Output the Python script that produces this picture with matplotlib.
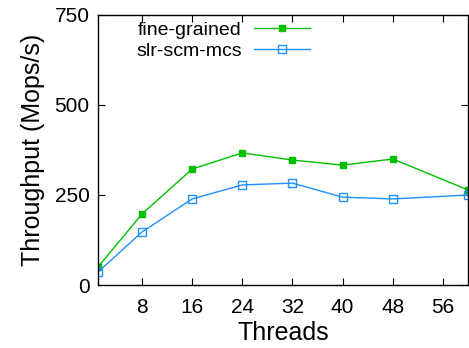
import numpy as np
import matplotlib
matplotlib.use("Agg")
import matplotlib.pyplot as plt

plt.rcParams['font.family'] = ['Liberation Sans', 'DejaVu Sans']

threads = [1, 8, 16, 24, 32, 40, 48, 60]
fine_grained = [50, 197, 322, 367, 347, 333, 350, 264]
slr_scm_mcs = [36, 147, 239, 278, 283, 244, 239, 250]

fig = plt.figure(figsize=(4.69, 3.48), dpi=100)
ax = fig.add_axes([0.209, 0.181, 0.789, 0.776])

ax.plot(threads, fine_grained, color='#00c000', lw=1, marker='s', ms=5,
        mfc='#00c000', mec='#00c000', label='fine-grained')
ax.plot(threads, slr_scm_mcs, color='#1e90ff', lw=1, marker='s', ms=5.5,
        mfc='none', mec='#1e90ff', mew=1, label='slr-scm-mcs')

ax.set_xlim(1, 60)
ax.set_ylim(0, 750)
ax.set_xticks([8, 16, 24, 32, 40, 48, 56])
ax.set_yticks([0, 250, 500, 750])
ax.tick_params(direction='in', top=True, right=True, labelsize=15, length=5, width=0.8)
ax.tick_params(axis='x', pad=9)
ax.tick_params(axis='y', pad=6)
for s in ax.spines.values():
    s.set_linewidth(1)
ax.set_xlabel('Threads', fontsize=18, labelpad=3)
ax.set_ylabel('Throughput (Mops/s)', fontsize=18, labelpad=7)

ax.legend(loc='upper right', bbox_to_anchor=(310 / 469, 1 - 21 / 348),
          bbox_transform=fig.transFigure, frameon=False, markerfirst=False,
          fontsize=14, handlelength=2.9, labelspacing=0.2, handletextpad=0.6,
          borderpad=0, borderaxespad=0, numpoints=1)

fig.savefig('out.png', dpi=100)
